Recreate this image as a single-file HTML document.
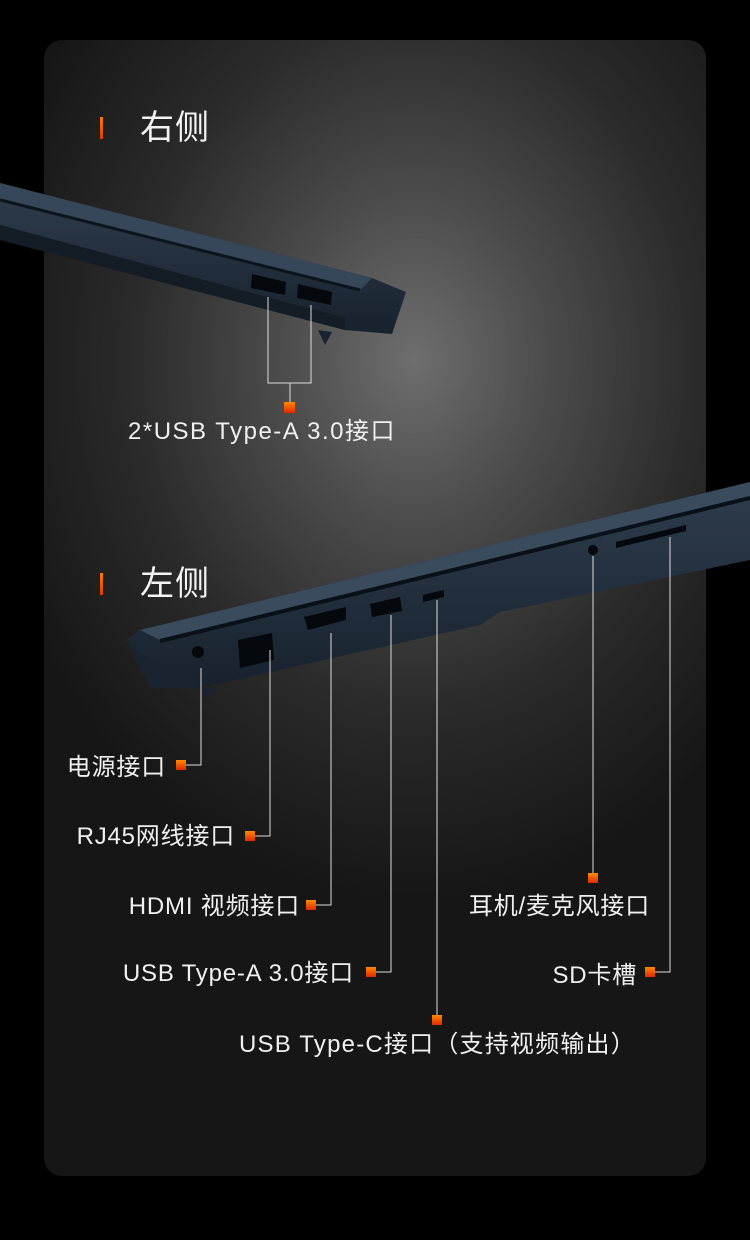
<!DOCTYPE html>
<html><head><meta charset="utf-8"><style>
html,body{margin:0;padding:0;background:#000;}
body{width:750px;height:1240px;overflow:hidden;position:relative;font-family:"Liberation Sans","Noto Sans CJK SC",sans-serif;}
.panel{position:absolute;left:44px;top:40px;width:662px;height:1136px;border-radius:18px;
background:radial-gradient(ellipse 440px 540px at 370px 320px,#6e6e6e 0%,#4c4c4c 30%,#2a2a2a 65%,#161616 100%);}
.t{position:absolute;color:#f0f0f0;font-size:24px;letter-spacing:0.8px;white-space:nowrap;line-height:1;}
.r{text-align:right;}
.h{position:absolute;color:#f4f4f4;font-size:34px;line-height:1;letter-spacing:1px;}
.bar{position:absolute;width:3px;height:22px;background:linear-gradient(#ff7a00,#e03a00);}
</style></head><body>
<div class="panel"></div>
<svg width="750" height="1240" style="position:absolute;left:0;top:0">
<defs>
<linearGradient id="sq" x1="0" y1="0" x2="0" y2="1"><stop offset="0" stop-color="#ff8a00"/><stop offset="1" stop-color="#e02800"/></linearGradient>
<linearGradient id="body" x1="0" y1="0" x2="0" y2="1"><stop offset="0" stop-color="#2f3d4e"/><stop offset="1" stop-color="#18222e"/></linearGradient>
</defs>
<polygon points="0,183 372,278 406,292 392,334 345,330 0,240" fill="url(#body)"/>
<polygon points="0,183 372,278 360,290 0,198" fill="#36475a"/>
<line x1="0" y1="200" x2="360" y2="290" stroke="#0d141c" stroke-width="3"/>
<polygon points="0,225 345,318 345,330 0,240" fill="#141c26"/>
<polygon points="318,330 332,332 325,345" fill="#1a2430"/>
<polygon points="252,274 286,282 285,295 251,288" fill="#05080c"/>
<polygon points="298,284 332,292 331,305 297,298" fill="#05080c"/>
<polyline points="268,297 268,383 311,383 311,305" fill="none" stroke="#ddd" stroke-width="1"/>
<line x1="290" y1="383" x2="290" y2="402" stroke="#ddd"/>
<rect x="284" y="402" width="11" height="11" fill="url(#sq)"/>
<polygon points="140,630 750,482 750,560 500,612 480,625 200,688 150,688 126,640" fill="url(#body)"/>
<polygon points="140,630 750,482 750,498 160,640" fill="#3a4b5e"/>
<line x1="160" y1="641" x2="750" y2="498" stroke="#0a1018" stroke-width="4"/>
<polygon points="126,640 150,688 200,688 180,672 150,660" fill="#1a2430"/>
<polygon points="200,688 215,688 210,698" fill="#1a2430"/>
<circle cx="198" cy="652" r="6" fill="#05080c"/>
<polygon points="238,640 272,633 274,660 240,668" fill="#05080c"/>
<polygon points="304,617 346,607 346,620 308,630" fill="#05080c"/>
<polygon points="370,604 400,597 402,611 372,617" fill="#05080c"/>
<polygon points="423,595 444,590 444,597 423,602" fill="#05080c"/>
<circle cx="593" cy="550" r="5" fill="#05080c"/>
<polygon points="616,542 686,525 686,531 616,548" fill="#05080c"/>
<g stroke="#ddd" stroke-width="1" fill="none">
<polyline points="201,668 201,765 186,765"/>
<polyline points="270,650 270,836 255,836"/>
<polyline points="331,633 331,905 316,905"/>
<polyline points="391,615 391,972 376,972"/>
<line x1="437" y1="600" x2="437" y2="1015"/>
<line x1="593" y1="556" x2="593" y2="873"/>
<polyline points="670,537 670,972 655,972"/>
</g>
<rect x="176" y="760" width="10" height="10" fill="url(#sq)"/>
<rect x="245" y="831" width="10" height="10" fill="url(#sq)"/>
<rect x="306" y="900" width="10" height="10" fill="url(#sq)"/>
<rect x="366" y="967" width="10" height="10" fill="url(#sq)"/>
<rect x="432" y="1015" width="10" height="10" fill="url(#sq)"/>
<rect x="588" y="873" width="10" height="10" fill="url(#sq)"/>
<rect x="645" y="967" width="10" height="10" fill="url(#sq)"/>
</svg>
<div class="bar" style="left:100px;top:117px"></div>
<div class="h" style="left:140px;top:111px">右侧</div>
<div class="bar" style="left:100px;top:573px"></div>
<div class="h" style="left:140px;top:567px">左侧</div>
<div class="t" style="left:128px;top:420px;letter-spacing:1.5px">2*USB Type-A 3.0接口</div>
<div class="t r" style="right:584px;top:756px">电源接口</div>
<div class="t r" style="right:515px;top:825px">RJ45网线接口</div>
<div class="t r" style="right:450px;top:895px">HDMI 视频接口</div>
<div class="t r" style="right:396px;top:962px">USB Type-A 3.0接口</div>
<div class="t" style="left:239px;top:1033px;letter-spacing:1.2px">USB Type-C接口（支持视频输出）</div>
<div class="t r" style="right:100px;top:895px">耳机/麦克风接口</div>
<div class="t r" style="right:113px;top:964px">SD卡槽</div>
</body></html>
